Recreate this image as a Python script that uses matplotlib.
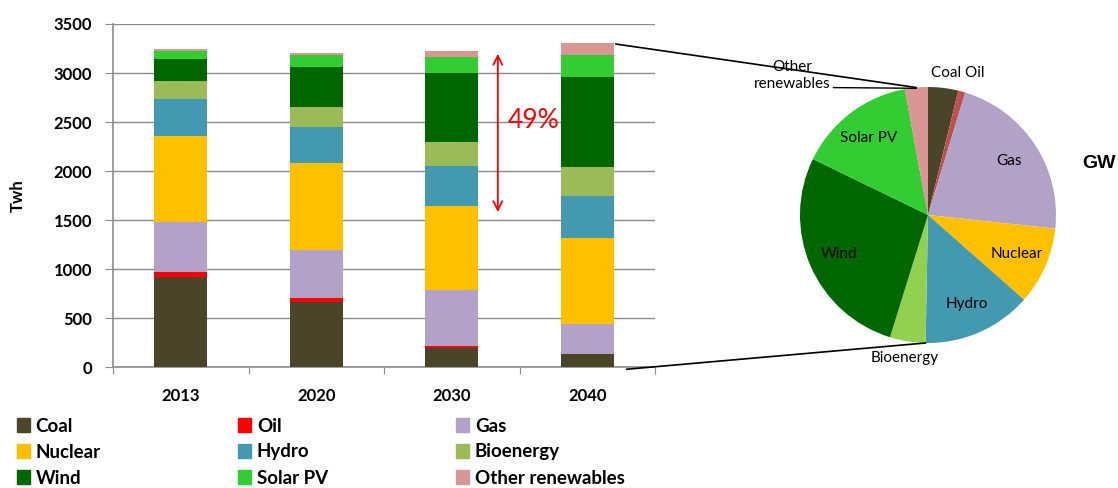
import numpy as np
import matplotlib
matplotlib.use('Agg')
import matplotlib.pyplot as plt
from matplotlib.patches import ConnectionPatch, Patch

plt.rcParams['font.family'] = ['Lato', 'DejaVu Sans']

# stacked generation by source (TWh)
years = ['2013', '2020', '2030', '2040']
sources = ['Coal', 'Oil', 'Gas', 'Nuclear', 'Hydro', 'Bioenergy', 'Wind', 'Solar PV', 'Other renewables']
coal = [918, 663, 194, 133]
oil = [58, 47, 23, 0]
gas = [510, 487, 572, 309]
nuclear = [877, 881, 860, 880]
hydro = [375, 371, 408, 429]
bioenergy = [180, 200, 245, 290]
wind = [225, 415, 698, 918]
solar_pv = [85, 123, 163, 225]
other_ren = [17, 17, 61, 122]
bar_colors = ['#4a4429', '#ff0000', '#b3a2c7', '#ffc000', '#4399b0', '#9bbb59', '#006600', '#33cc33', '#d99694']

# 2040 capacity shares (GW, %)
pie_labels = ['Coal', 'Oil', 'Gas', 'Nuclear', 'Hydro', 'Bioenergy', 'Wind', 'Solar PV', 'Other\nrenewables']
pie_share = [3.8, 0.9, 22.0, 9.8, 13.8, 4.5, 27.4, 14.9, 2.9]
pie_colors = ['#4a4429', '#c0504d', '#b3a2c7', '#ffc000', '#4399b0', '#92d050', '#006600', '#33cc33', '#d99694']

fig = plt.figure(figsize=(11.18, 4.88), dpi=100)
W, H = 1118, 488

ax = fig.add_axes([113/W, 1-367.3/H, 542/W, 343.3/H])
x = np.arange(len(years))
series = [coal, oil, gas, nuclear, hydro, bioenergy, wind, solar_pv, other_ren]
bottom = np.zeros(len(years))
for vals, col in zip(series, bar_colors):
    ax.bar(x, vals, 0.39, bottom=bottom, color=col, zorder=3)
    bottom += np.array(vals)

ax.set_xlim(-0.5, 3.5)
ax.set_ylim(0, 3500)
ax.set_yticks(np.arange(0, 3501, 500))
ax.grid(axis='y', color='#8c8c8c', lw=1.0, zorder=0)
for s in ['top', 'right']:
    ax.spines[s].set_visible(False)
for s in ['left', 'bottom']:
    ax.spines[s].set_color('#8c8c8c')
    ax.spines[s].set_linewidth(1.2)
ax.set_xticks(np.arange(-0.5, 4, 1))
ax.set_xticklabels([])
ax.set_xticks(x, minor=True)
ax.set_xticklabels(years, minor=True, fontsize=12, fontweight='bold')
ax.tick_params(axis='x', which='major', length=5, color='#8c8c8c', direction='out')
ax.tick_params(axis='x', which='minor', length=0, pad=15)
ax.tick_params(axis='y', length=6, color='#8c8c8c', pad=9, labelsize=12)
for t in ax.get_yticklabels():
    t.set_fontweight('bold')
ax.set_ylabel('Twh', fontsize=12, fontweight='bold', labelpad=20)

# 49% arrow between 2030 total and non-renewable part
tot30 = bottom[2]
base30 = coal[2] + oil[2] + gas[2] + nuclear[2]
ax.annotate('', xy=(2.34, base30 - 95), xytext=(2.34, tot30),
            arrowprops=dict(arrowstyle='<->', color='#ff0000', lw=1.3, mutation_scale=16))
ax.text(2.41, (tot30 + base30) / 2 + 80, '49%', color='#ff0000', fontsize=19, va='center', ha='left')

# pie
pax = fig.add_axes([800/W, 1-343/H, 256/W, 256/H])
wedges, texts = pax.pie(pie_share, colors=pie_colors, startangle=90, counterclock=False,
                        labels=pie_labels, labeldistance=0.76,
                        textprops=dict(fontsize=11, ha='center', va='center'))
pax.set_xlim(-1, 1)
pax.set_ylim(-1, 1)
texts[0].set_text('Coal Oil')
texts[0].set_position((0.23, 1.11))
texts[1].set_text('')
texts[5].set_position((-0.18, -1.12))
texts[8].set_text('')
pax.annotate('Other\nrenewables', xy=(-0.09, 0.99), xytext=(-1.06, 1.09),
             fontsize=11, ha='center', va='center', annotation_clip=False,
             arrowprops=dict(arrowstyle='-', color='black', lw=1.0,
                             relpos=(1.0, 0.1), shrinkA=0, shrinkB=0))
fig.text(1082/W, 1-163/H, 'GW', fontsize=14, fontweight='bold', va='center', ha='left',
         family=['Liberation Sans', 'DejaVu Sans'])

# connector lines from 2040 bar to pie
w_other = wedges[-1]
ang_top = np.deg2rad((w_other.theta1 + w_other.theta2) / 2)
ang_bot = np.deg2rad(wedges[4].theta1)
con1 = ConnectionPatch(xyA=(3.21, bottom[3] - 10), coordsA=ax.transData,
                       xyB=(np.cos(ang_top), np.sin(ang_top)), coordsB=pax.transData,
                       color='black', lw=1.2)
con2 = ConnectionPatch(xyA=(3.29, -20), coordsA=ax.transData,
                       xyB=(np.cos(ang_bot), np.sin(ang_bot)), coordsB=pax.transData,
                       color='black', lw=1.2)
fig.add_artist(con1)
fig.add_artist(con2)

# legend, three columns filled row-wise
handles = [Patch(color=c, label=s) for s, c in zip(sources, bar_colors)]
for i, xpos in enumerate([9.5, 230.5, 448.5]):
    fig.legend(handles=handles[i::3], loc='upper left', bbox_to_anchor=(xpos/W, 1-410/H),
               frameon=False, handlelength=0.7, handleheight=0.7,
               handletextpad=0.3, labelspacing=0.48, borderaxespad=0,
               prop=dict(size=13.5, weight='bold'))

fig.savefig('out.png', dpi=100)
